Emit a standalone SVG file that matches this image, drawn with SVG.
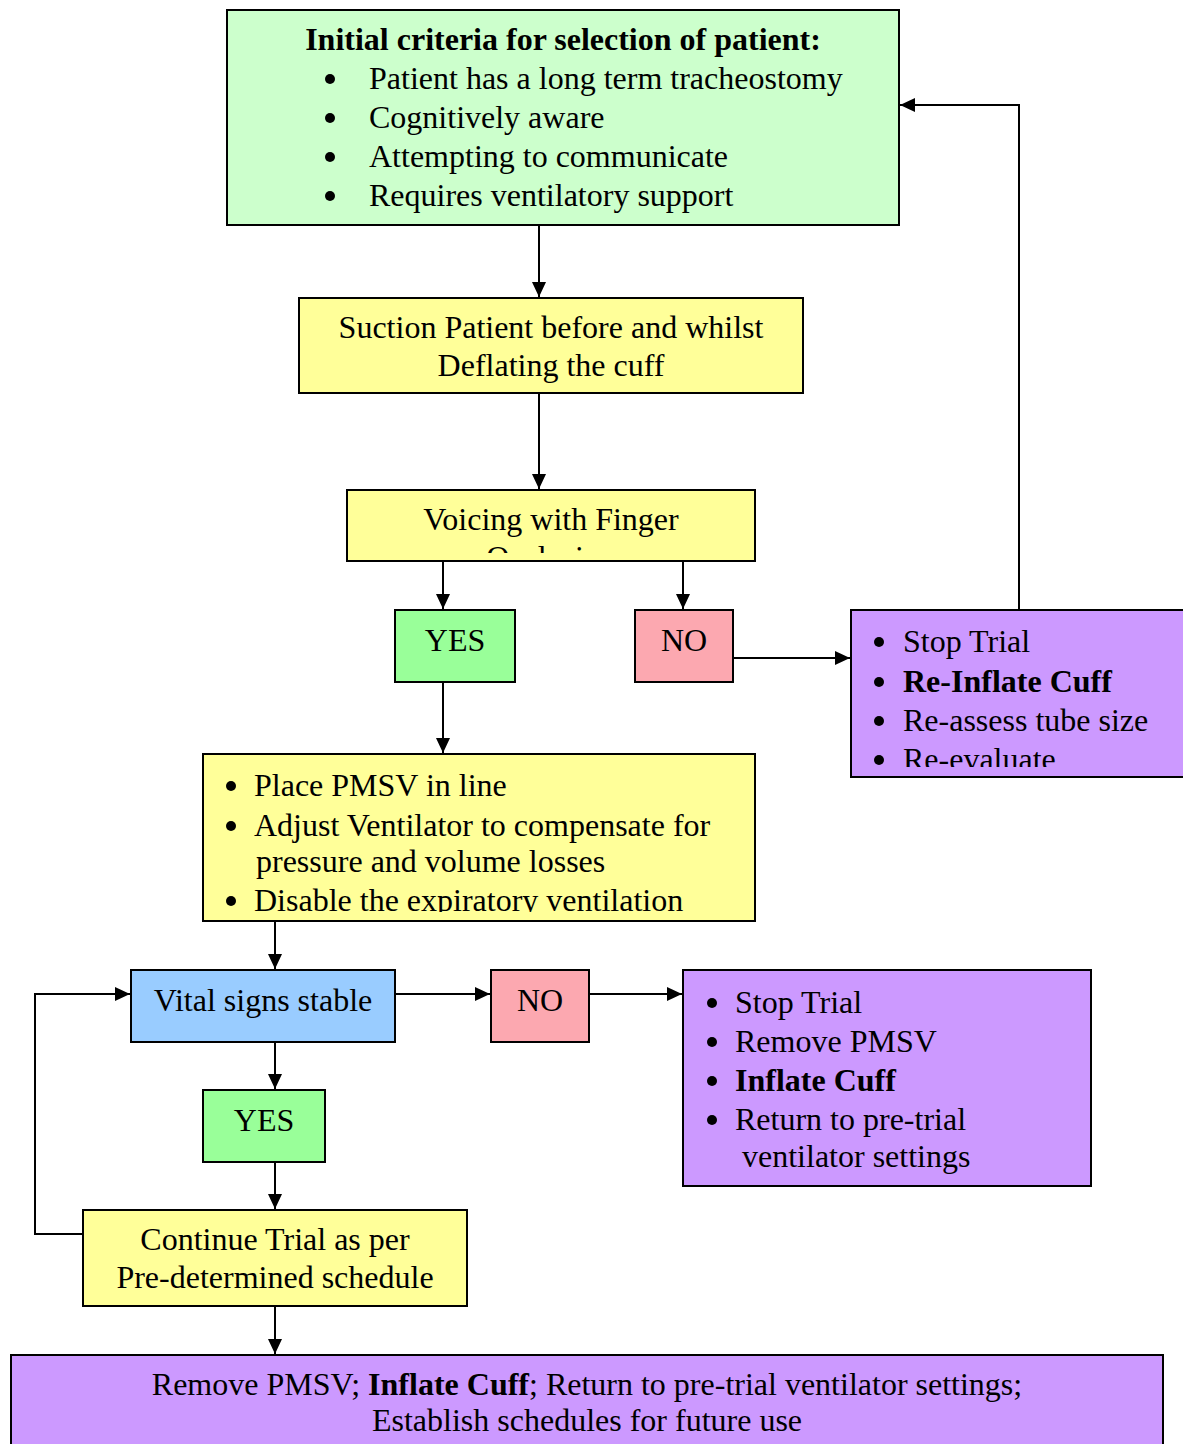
<svg xmlns="http://www.w3.org/2000/svg" width="1183" height="1444" viewBox="0 0 1183 1444">
<style>
.box{stroke:#000;stroke-width:2}
.t{font-family:"Liberation Serif","Times New Roman",serif;font-size:32px;fill:#000}
.c{text-anchor:middle}
.b{font-weight:bold}
.con{stroke:#000;stroke-width:2;fill:none}
.dot{fill:#000}
</style>
<defs>
<marker id="ah" markerUnits="userSpaceOnUse" markerWidth="16" markerHeight="16" refX="15" refY="7" orient="auto" viewBox="0 0 16 14">
<path d="M0,0 L15,7 L0,14 z" fill="#000"/>
</marker>
<clipPath id="clipVoice"><rect x="348" y="491" width="406" height="62"/></clipPath>
<clipPath id="clipStop1"><rect x="852" y="611" width="331" height="156"/></clipPath>
<clipPath id="clipPmsv"><rect x="204" y="755" width="550" height="157"/></clipPath>
</defs>
<rect width="1183" height="1444" fill="#fff"/>

<g id="connectors">
<line class="con" x1="539" y1="226" x2="539" y2="297" marker-end="url(#ah)"/>
<line class="con" x1="539" y1="394" x2="539" y2="489" marker-end="url(#ah)"/>
<line class="con" x1="443" y1="562" x2="443" y2="609" marker-end="url(#ah)"/>
<line class="con" x1="683" y1="562" x2="683" y2="609" marker-end="url(#ah)"/>
<line class="con" x1="733" y1="658" x2="850" y2="658" marker-end="url(#ah)"/>
<polyline class="con" points="1019,610 1019,105 900,105" marker-end="url(#ah)"/>
<line class="con" x1="443" y1="683" x2="443" y2="753" marker-end="url(#ah)"/>
<line class="con" x1="275" y1="922" x2="275" y2="969" marker-end="url(#ah)"/>
<line class="con" x1="396" y1="994" x2="490" y2="994" marker-end="url(#ah)"/>
<line class="con" x1="590" y1="994" x2="682" y2="994" marker-end="url(#ah)"/>
<line class="con" x1="275" y1="1043" x2="275" y2="1089" marker-end="url(#ah)"/>
<line class="con" x1="275" y1="1163" x2="275" y2="1209" marker-end="url(#ah)"/>
<polyline class="con" points="83,1234 35,1234 35,994 130,994" marker-end="url(#ah)"/>
<line class="con" x1="275" y1="1307" x2="275" y2="1354" marker-end="url(#ah)"/>
</g>

<g id="criteria">
<rect class="box" x="227" y="10" width="672" height="215" fill="#CCFFCC"/>
<text class="t b c" x="563" y="50">Initial criteria for selection of patient:</text>
<circle class="dot" cx="330" cy="79" r="5"/>
<circle class="dot" cx="330" cy="118" r="5"/>
<circle class="dot" cx="330" cy="157" r="5"/>
<circle class="dot" cx="330" cy="196" r="5"/>
<text class="t" x="369" y="89">Patient has a long term tracheostomy</text>
<text class="t" x="369" y="128">Cognitively aware</text>
<text class="t" x="369" y="167">Attempting to communicate</text>
<text class="t" x="369" y="206">Requires ventilatory support</text>
</g>

<g id="suction">
<rect class="box" x="299" y="298" width="504" height="95" fill="#FFFF99"/>
<text class="t c" x="551" y="338">Suction Patient before and whilst</text>
<text class="t c" x="551" y="376">Deflating the cuff</text>
</g>

<g id="voicing">
<rect class="box" x="347" y="490" width="408" height="71" fill="#FFFF99"/>
<g clip-path="url(#clipVoice)">
<text class="t c" x="551" y="530">Voicing with Finger</text>
<text class="t c" x="551" y="568">Occlusion</text>
</g>
</g>

<g id="yes1">
<rect class="box" x="395" y="610" width="120" height="72" fill="#99FF99"/>
<text class="t c" x="455" y="651">YES</text>
</g>

<g id="no1">
<rect class="box" x="635" y="610" width="98" height="72" fill="#FCA8B0"/>
<text class="t c" x="684" y="651">NO</text>
</g>

<g id="stop1">
<rect class="box" x="851" y="610" width="340" height="167" fill="#CC99FF"/>
<g clip-path="url(#clipStop1)">
<circle class="dot" cx="879" cy="642" r="5"/>
<circle class="dot" cx="879" cy="682" r="5"/>
<circle class="dot" cx="879" cy="721" r="5"/>
<circle class="dot" cx="879" cy="760" r="5"/>
<text class="t" x="903" y="652">Stop Trial</text>
<text class="t b" x="903" y="692">Re-Inflate Cuff</text>
<text class="t" x="903" y="731">Re-assess tube size</text>
<text class="t" x="903" y="770">Re-evaluate</text>
</g>
</g>

<g id="pmsv">
<rect class="box" x="203" y="754" width="552" height="167" fill="#FFFF99"/>
<g clip-path="url(#clipPmsv)">
<circle class="dot" cx="231" cy="786" r="5"/>
<circle class="dot" cx="231" cy="826" r="5"/>
<circle class="dot" cx="231" cy="901" r="5"/>
<text class="t" x="254" y="796">Place PMSV in line</text>
<text class="t" x="254" y="836">Adjust Ventilator to compensate for</text>
<text class="t" x="256" y="872">pressure and volume losses</text>
<text class="t" x="254" y="911">Disable the expiratory ventilation</text>
</g>
</g>

<g id="vital">
<rect class="box" x="131" y="970" width="264" height="72" fill="#99CCFF"/>
<text class="t c" x="263" y="1011">Vital signs stable</text>
</g>

<g id="no2">
<rect class="box" x="491" y="970" width="98" height="72" fill="#FCA8B0"/>
<text class="t c" x="540" y="1011">NO</text>
</g>

<g id="stop2">
<rect class="box" x="683" y="970" width="408" height="216" fill="#CC99FF"/>
<circle class="dot" cx="712" cy="1003" r="5"/>
<circle class="dot" cx="712" cy="1042" r="5"/>
<circle class="dot" cx="712" cy="1081" r="5"/>
<circle class="dot" cx="712" cy="1120" r="5"/>
<text class="t" x="735" y="1013">Stop Trial</text>
<text class="t" x="735" y="1052">Remove PMSV</text>
<text class="t b" x="735" y="1091">Inflate Cuff</text>
<text class="t" x="735" y="1130">Return to pre-trial</text>
<text class="t" x="742" y="1167">ventilator settings</text>
</g>

<g id="yes2">
<rect class="box" x="203" y="1090" width="122" height="72" fill="#99FF99"/>
<text class="t c" x="264" y="1131">YES</text>
</g>

<g id="continue">
<rect class="box" x="83" y="1210" width="384" height="96" fill="#FFFF99"/>
<text class="t c" x="275" y="1250">Continue Trial as per</text>
<text class="t c" x="275" y="1288">Pre-determined schedule</text>
</g>

<g id="final">
<rect class="box" x="11" y="1355" width="1152" height="100" fill="#CC99FF"/>
<text class="t c" x="587" y="1395">Remove PMSV; <tspan class="b">Inflate Cuff</tspan>; Return to pre-trial ventilator settings;</text>
<text class="t c" x="587" y="1431">Establish schedules for future use</text>
</g>
</svg>
